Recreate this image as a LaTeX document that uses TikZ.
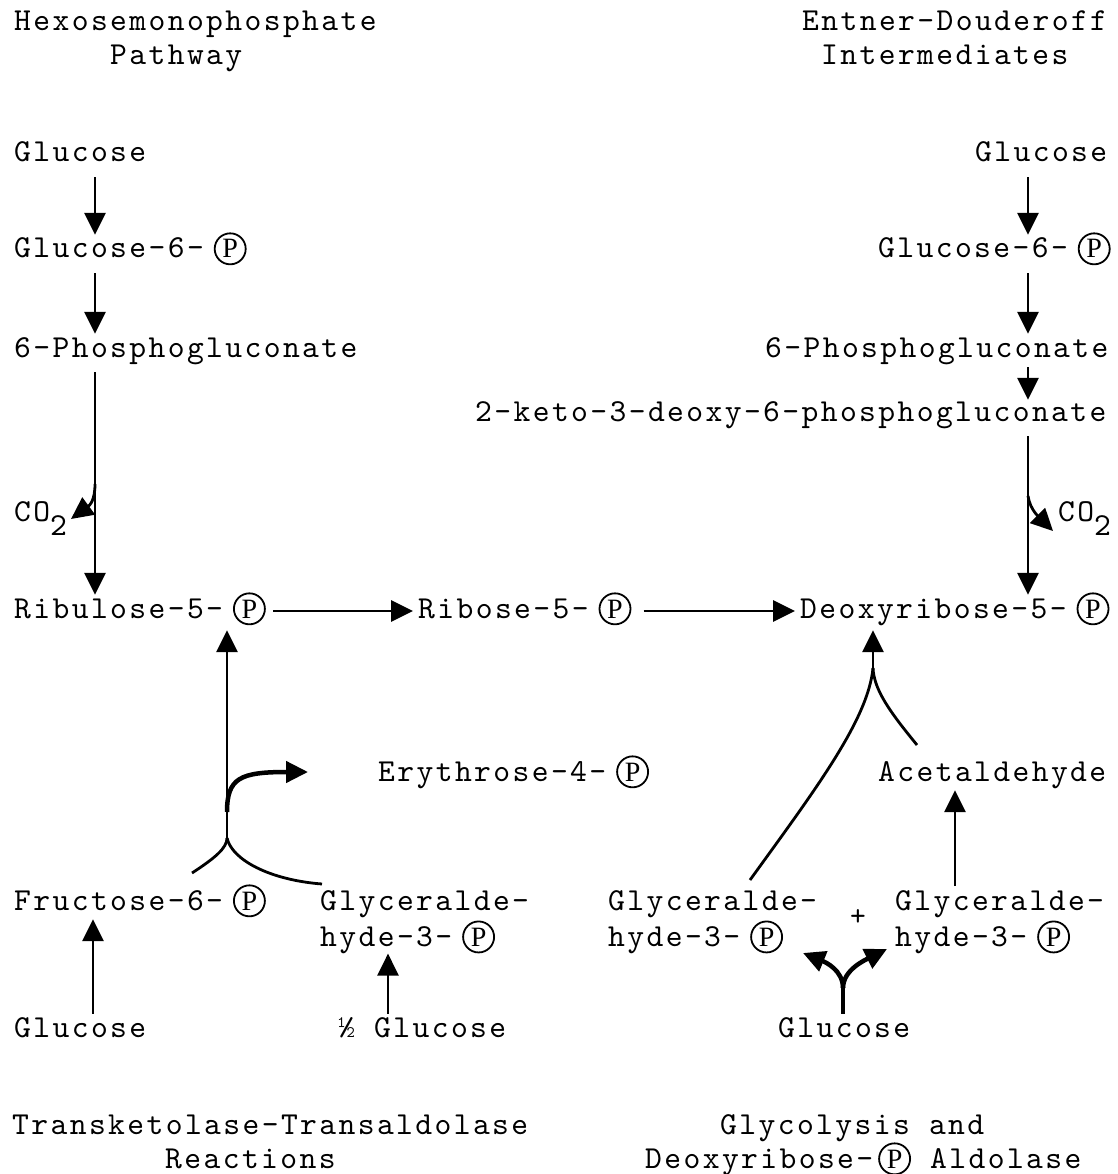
\documentclass[tikz,border=0pt]{standalone}
\usepackage{fontspec}
\setmainfont{lmmono10-regular.otf}[LetterSpace=7.5]
\newfontfamily\pfont{Liberation Serif}
\usetikzlibrary{arrows.meta,calc,positioning}
\tikzset{
  >={Triangle[length=22pt,width=21pt]},
  lbl/.style={inner sep=0pt, anchor=base west, text height=21pt, text depth=7pt,
              font=\fontsize{32}{36}\selectfont},
  twolines/.style={inner sep=0pt, anchor=north west, align=left,
              font=\fontsize{32}{36}\selectfont},
  flow/.style={->, line width=2.8pt, shorten <=8pt, shorten >=2pt},
  bigflow/.style={->, line width=4.5pt},
  branch/.style={line width=2.8pt},
}
\newcommand{\phos}{\tikz[baseline=(pp.base)]\node[circle,draw,line width=1.8pt,
  inner sep=0pt,minimum size=31pt,font=\pfont\fontsize{28}{28}\selectfont](pp){P};}
\newcommand{\gapphos}{\hspace{10pt}\phos}

\begin{document}
\begin{tikzpicture}[x=1pt,y=-1pt]
  \useasboundingbox (0,0) rectangle (1117,1174);

  % headings
  \node [lbl] (hmptitle) at (14,31) {Hexosemonophosphate};
  \node [lbl] (hmpsub) at (110,65) {Pathway};
  \node [lbl] (edtitle) at (802,31) {Entner-Douderoff};
  \node [lbl] (edsub) at (821,65) {Intermediates};
  \node [lbl] (tktitle) at (12,1134) {Transketolase-Transaldolase};
  \node [lbl] (tksub) at (165,1168) {Reactions};
  \node [lbl] (gytitle) at (720,1134) {Glycolysis and};
  \node [lbl] (gysub) at (645,1168) {Deoxyribose-\hspace{5pt}\phos{} Aldolase};

  % hexosemonophosphate pathway
  \node [lbl] (glcl) at (14,162) {Glucose};
  \node [lbl] (g6pl) at (14,258) {Glucose-6-\gapphos};
  \node [lbl] (pgl) at (14,357) {6-Phosphogluconate};
  \node [lbl] (co2l) at (14,521) {CO\raisebox{-14pt}{2}};
  \node [lbl] (ru5p) at (14,618) {Ribulose-5-\gapphos};
  \node [lbl] (r5p) at (418,618) {Ribose-5-\gapphos};
  \node [lbl] (dr5p) at (800,618) {Deoxyribose-5-\gapphos};

  % entner-douderoff
  \node [lbl] (glcr) at (975,162) {Glucose};
  \node [lbl] (g6pr) at (878,258) {Glucose-6-\gapphos};
  \node [lbl] (pgr) at (765,357) {6-Phosphogluconate};
  \node [lbl] (kdpg) at (475,421) {2-keto-3-deoxy-6-phosphogluconate};
  \node [lbl] (co2r) at (1058,521) {CO\raisebox{-14pt}{2}};

  % lower part
  \node [lbl] (e4p) at (378,781) {Erythrose-4-\gapphos};
  \node [lbl] (acet) at (878,781) {Acetaldehyde};
  \node [lbl] (f6p) at (14,910) {Fructose-6-\gapphos};
  \node [twolines] (ga3pl) at (320,890) {Glyceralde-\\hyde-3-\gapphos};
  \node [twolines] (ga3pm) at (608,890) {Glyceralde-\\hyde-3-\gapphos};
  \node [inner sep=0pt, font=\fontsize{30}{30}\selectfont] (plus) at (858,918) {+};
  \node [twolines] (ga3pr) at (895,890) {Glyceralde-\\hyde-3-\gapphos};
  \node [lbl] (glcbl) at (14,1037) {Glucose};
  \node [lbl] (halfglc) at (338,1037) {½ Glucose};
  \node [lbl] (glcbr) at (778,1037) {Glucose};

  \coordinate (lcol) at (95,0);
  \coordinate (rcol) at (1028,0);
  \coordinate (fcol) at (93,0);
  \coordinate (gcol) at (388,0);

  \draw [flow] (glcl.south -| lcol) -- (g6pl.north -| lcol);
  \draw [flow] (g6pl.south -| lcol) -- (pgl.north -| lcol);
  \draw [flow] (pgl.south -| lcol) -- (ru5p.north -| lcol);
  \draw [->, line width=2.8pt] (95,484) .. controls (95,500) and (90,505) .. (71,519);

  \draw [flow] (glcr.south -| rcol) -- (g6pr.north -| rcol);
  \draw [flow] (g6pr.south -| rcol) -- (pgr.north -| rcol);
  \draw [flow, shorten <=3pt, shorten >=0pt] (pgr.south -| rcol) -- (kdpg.north -| rcol);
  \draw [flow] (kdpg.south -| rcol) -- (dr5p.north -| rcol);
  \draw [->, line width=2.8pt] (1028,496) .. controls (1030,510) and (1040,518) .. (1053,531);

  \draw [flow, shorten <=7pt, shorten >=5pt] (ru5p) -- (r5p);
  \draw [flow, shorten <=12pt, shorten >=5pt] (r5p) -- (dr5p);

  % transketolase / transaldolase
  \coordinate (tkjoin) at (227,838);
  \coordinate (tkleft) at (192,873);
  \coordinate (tkright) at (322,884);
  \coordinate (e4in) at ([xshift=-70pt]e4p.west);
  \draw [branch] (tkleft) .. controls (215,858) and (227,848) .. (tkjoin);
  \draw [branch] (tkjoin) .. controls (232,860) and (270,880) .. (tkright);
  \draw [flow, shorten <=0pt, shorten >=5pt] (tkjoin) -- (ru5p.south -| tkjoin);
  \draw [bigflow] (227,812) .. controls (227,778) and (240,772) .. (e4in |- 0,772);
  \draw [flow, shorten <=2pt] (glcbl.north -| fcol) -- (f6p.south -| fcol);
  \draw [flow, shorten <=2pt, shorten >=0pt] (halfglc.north -| gcol) -- (ga3pl.south -| gcol);

  % glycolysis / aldolase
  \coordinate (drjoin) at (873,668);
  \coordinate (drleft) at (750,880);
  \coordinate (drright) at (917,745);
  \draw [branch] (drleft) .. controls (815,790) and (868,720) .. (drjoin);
  \draw [branch] (drright) .. controls (890,712) and (874,690) .. (drjoin);
  \draw [flow, shorten <=0pt, shorten >=5pt] (drjoin) -- (dr5p.south -| drjoin);
  \draw [flow, shorten <=4pt] (ga3pr.north -| 955,0) -- (acet.south -| 955,0);
  \coordinate (gsplit) at (843,988);
  \draw [line width=4.5pt] (glcbr.north -| gsplit) ++(0,-2) -- (gsplit);
  \draw [bigflow] (gsplit) .. controls (843,970) and (825,962) .. (803,953);
  \draw [bigflow] (gsplit) .. controls (843,970) and (865,960) .. (887,949);
\end{tikzpicture}
\end{document}
